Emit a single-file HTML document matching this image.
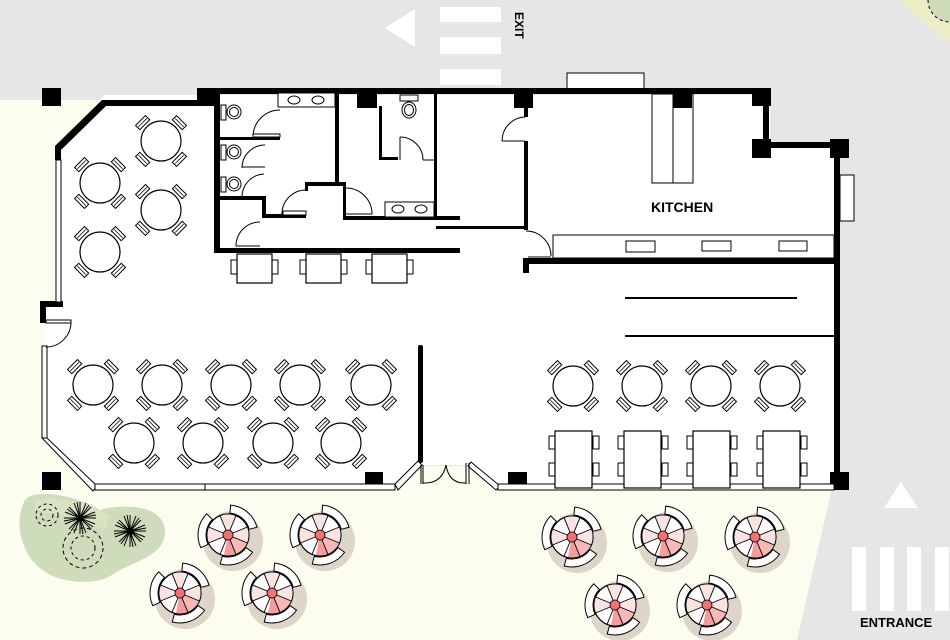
<!DOCTYPE html>
<html><head><meta charset="utf-8">
<style>
html,body{margin:0;padding:0;background:#e6e6e6;}
svg{display:block;}
text{font-family:"Liberation Sans",sans-serif;font-weight:bold;}
</style></head>
<body>
<svg width="950" height="640" viewBox="0 0 950 640" xmlns="http://www.w3.org/2000/svg">
<defs>
  <g id="ch">
    <rect x="-7" y="-29" width="14" height="6" fill="#fff" stroke="#000" stroke-width="1"/>
    <line x1="-6" y1="-26" x2="6" y2="-26" stroke="#000" stroke-width="0.8"/>
  </g>
  <g id="rt">
    <use href="#ch" transform="rotate(45)"/>
    <use href="#ch" transform="rotate(135)"/>
    <use href="#ch" transform="rotate(225)"/>
    <use href="#ch" transform="rotate(315)"/>
    <circle r="20" fill="#fff" stroke="#000" stroke-width="1.2"/>
  </g>
  <g id="sq">
    <rect x="-9" y="-11" width="6" height="13" fill="#fff" stroke="#000"/>
    <rect x="-9" y="16" width="6" height="13" fill="#fff" stroke="#000"/>
    <rect x="35" y="-11" width="6" height="13" fill="#fff" stroke="#000"/>
    <rect x="35" y="16" width="6" height="13" fill="#fff" stroke="#000"/>
    <rect x="-3" y="-16" width="37" height="57" fill="#fff" stroke="#000" stroke-width="1.2"/>
  </g>
  <g id="tt">
    <rect x="-6" y="-8" width="6" height="14" fill="#fff" stroke="#000"/>
    <rect x="35" y="-8" width="6" height="14" fill="#fff" stroke="#000"/>
    <rect x="0" y="-14" width="35" height="29" fill="#fff" stroke="#000" stroke-width="1.2"/>
  </g>
  <path id="band" d="M-17.2,-24.6 A30,30 0 0 1 17.2,-24.6 L12.6,-18 A22,22 0 0 0 -12.6,-18 Z" fill="#fff" stroke="#000" stroke-width="1"/>
  <g id="um">
    <circle cx="5" cy="6" r="30" fill="#ddd6c8"/>
    <use href="#band" transform="rotate(40)"/>
    <use href="#band" transform="rotate(160)"/>
    <use href="#band" transform="rotate(280)"/>
    <circle r="21" fill="#fff" stroke="#000" stroke-width="1.2"/>
    <path d="M0,0 L19,-8 A21,21 0 0 1 16,13 Z" fill="#fbe3e3"/>
    <path d="M0,0 L-8,-19 A21,21 0 0 1 8,-19 Z" fill="#fbe3e3"/>
    <path d="M0,0 L-19,8 A21,21 0 0 1 -19,-8 Z" fill="#fbe3e3"/>
    <path d="M0,0 L8,19 A21,21 0 0 1 -4,20 Z" fill="#f59c9c"/>
    <path d="M0,0 L19,8 A21,21 0 0 1 8,19 Z" fill="#f8b8b8"/>
    <g stroke="#000" stroke-width="0.9">
      <line x1="-19.4" y1="-8" x2="19.4" y2="8"/>
      <line x1="-8" y1="-19.4" x2="8" y2="19.4"/>
      <line x1="-19.4" y1="8" x2="19.4" y2="-8"/>
      <line x1="8" y1="-19.4" x2="-8" y2="19.4"/>
    </g>
    <circle r="5" fill="#f07272" stroke="#000" stroke-width="0.8"/>
  </g>
  <g id="tree" stroke="#000" stroke-width="1">
    <line x1="-16" y1="0" x2="16" y2="0"/><line x1="0" y1="-16" x2="0" y2="16"/>
    <line x1="-11" y1="-11" x2="11" y2="11"/><line x1="-11" y1="11" x2="11" y2="-11"/>
    <line x1="-15" y1="-6" x2="15" y2="6"/><line x1="-15" y1="6" x2="15" y2="-6"/>
    <line x1="-6" y1="-15" x2="6" y2="15"/><line x1="6" y1="-15" x2="-6" y2="15"/>
    <line x1="-13" y1="-9" x2="13" y2="9"/><line x1="-9" y1="13" x2="9" y2="-13"/>
    <line x1="-3" y1="-16" x2="3" y2="16"/><line x1="-16" y1="3" x2="16" y2="-3"/>
    <circle r="3" fill="#000"/>
  </g>
</defs>

<rect width="950" height="640" fill="#e6e6e6"/>
<path d="M0,100 L200,100 L200,470 L832,470 L832,488 L797,640 L0,640 Z" fill="#fdfdef"/>
<path d="M902,0 Q925,25 950,42 L950,0 Z" fill="#eeeec6"/>
<circle cx="950" cy="0" r="22" fill="#cfdcbc" stroke="#000" stroke-width="1" stroke-dasharray="3,3"/>

<polygon points="385,28 415,9 415,47" fill="#fff"/>
<rect x="440" y="7" width="61" height="15" fill="#fff"/>
<rect x="440" y="37" width="61" height="17" fill="#fff"/>
<rect x="440" y="69" width="61" height="16" fill="#fff"/>
<text x="0" y="0" font-size="12" transform="translate(515,12) rotate(90)">EXIT</text>

<polygon points="901,482 884,508 918,508" fill="#fff"/>
<rect x="852" y="547" width="14" height="64" fill="#fff"/>
<rect x="880" y="547" width="14" height="64" fill="#fff"/>
<rect x="907" y="547" width="14" height="64" fill="#fff"/>
<rect x="935" y="547" width="14" height="64" fill="#fff"/>
<text x="860" y="627" font-size="13">ENTRANCE</text>

<polygon points="104,95 770,95 770,148 836,148 836,488 495,488 470,465 421,465 398,488 95,488 45,438 45,300 58,300 58,148" fill="#fff"/>
<rect x="422" y="466" width="48" height="22" fill="#fdfdef"/>

<rect x="567" y="73" width="77" height="16" fill="#fff" stroke="#000"/>
<rect x="652" y="94" width="41" height="89" fill="#fff" stroke="#000"/>
<line x1="673" y1="94" x2="673" y2="183" stroke="#000"/>
<rect x="840" y="175" width="14" height="46" fill="#fff" stroke="#000"/>

<g fill="#000">
  <rect x="197" y="88" width="574" height="6"/>
  <rect x="42" y="88" width="19" height="18"/>
  <rect x="197" y="88" width="18" height="16"/>
  <rect x="357" y="92" width="20" height="16"/>
  <rect x="514" y="92" width="19" height="16"/>
  <rect x="673" y="92" width="19" height="16"/>
  <rect x="752" y="88" width="19" height="18"/>
  <rect x="763" y="104" width="6" height="40"/>
  <rect x="752" y="139" width="19" height="19"/>
  <rect x="769" y="142" width="62" height="6"/>
  <rect x="830" y="139" width="19" height="19"/>
  <rect x="834" y="156" width="6" height="318"/>
  <rect x="42" y="472" width="19" height="18"/>
  <rect x="365" y="472" width="18" height="18"/>
  <rect x="508" y="472" width="19" height="18"/>
  <rect x="830" y="472" width="19" height="18"/>
  <rect x="102" y="100" width="112" height="6"/>
  <polygon points="102,100 107,105 61,150 55,146"/>
  <rect x="55" y="146" width="6" height="14"/>
  <rect x="214" y="93" width="6" height="160"/>
  <rect x="214" y="248" width="246" height="5"/>
  <rect x="335" y="93" width="4" height="93"/>
  <rect x="305" y="182" width="41" height="4"/>
  <rect x="305" y="182" width="3" height="9"/>
  <rect x="343" y="182" width="3" height="38"/>
  <rect x="343" y="216" width="117" height="4"/>
  <rect x="434" y="93" width="3" height="127"/>
  <rect x="379" y="106" width="3" height="54"/>
  <rect x="379" y="157" width="19" height="3"/>
  <rect x="220" y="196" width="45" height="4"/>
  <rect x="262" y="196" width="4" height="22"/>
  <rect x="262" y="214" width="44" height="4"/>
  <rect x="220" y="137" width="60" height="3"/>
  <rect x="524" y="106" width="4" height="11"/>
  <rect x="524" y="141" width="4" height="89"/>
  <rect x="436" y="226" width="92" height="3"/>
  <rect x="523" y="258" width="6" height="15"/>
  <rect x="523" y="258" width="317" height="6"/>
  <rect x="40" y="301" width="23" height="6"/>
  <rect x="40" y="301" width="6" height="22"/>
  <rect x="418" y="345" width="5" height="118" rx="2"/>
</g>

<rect x="553" y="235" width="281" height="23" fill="#fff" stroke="#000"/>
<rect x="626" y="241" width="29" height="11" fill="#fff" stroke="#000"/>
<rect x="702" y="241" width="29" height="10" fill="#fff" stroke="#000"/>
<rect x="779" y="241" width="28" height="10" fill="#fff" stroke="#000"/>
<text x="651" y="212" font-size="14">KITCHEN</text>
<line x1="625" y1="298" x2="797" y2="298" stroke="#000" stroke-width="2"/>
<line x1="625" y1="336" x2="835" y2="336" stroke="#000" stroke-width="2"/>

<g fill="#fff" stroke="#000" stroke-width="1">
  <rect x="56" y="160" width="5" height="142"/>
  <rect x="42" y="346" width="5" height="92"/>
  <polygon points="42,438 47,438 97,486 93,491"/>
  <rect x="95" y="484" width="300" height="6"/>
  <polygon points="395,484 418,461 422,465 398,490"/>
  <polygon points="471,462 500,486 496,490 468,466"/>
  <rect x="498" y="484" width="336" height="6"/>
</g>
<line x1="205" y1="484" x2="205" y2="490" stroke="#000"/>

<g fill="none" stroke="#000" stroke-width="1">
  <line x1="421" y1="465" x2="421" y2="484"/><line x1="423" y1="465" x2="423" y2="484"/>
  <line x1="466" y1="463" x2="466" y2="484"/><line x1="469" y1="463" x2="469" y2="484"/>
  <path d="M423,483 Q442,484 446,465"/>
  <path d="M466,483 Q449,484 446,465"/>
</g>

<g fill="none" stroke="#000" stroke-width="1">
  <path d="M71,322 A25,25 0 0 1 46,347"/>
  <rect x="46" y="320" width="25" height="3" fill="#fff"/>
  <path d="M280,110 A27,27 0 0 0 253,137"/>
  <rect x="253" y="134" width="27" height="3" fill="#fff"/>
  <path d="M265,145 A23,23 0 0 0 242,168"/>
  <line x1="242" y1="167" x2="265" y2="167"/>
  <path d="M264,174 A23,23 0 0 0 242,197"/>
  <path d="M260,222 A24,24 0 0 0 236,246"/>
  <line x1="236" y1="246" x2="260" y2="246"/>
  <path d="M306,190 A24,24 0 0 0 282,214"/>
  <rect x="283" y="211" width="23" height="4" fill="#fff"/>
  <path d="M346,188 A26,26 0 0 1 372,214"/>
  <line x1="346" y1="214" x2="372" y2="214"/>
  <line x1="400" y1="137" x2="400" y2="160"/>
  <path d="M400,137 A23,23 0 0 1 423,160"/>
  <line x1="423" y1="160" x2="434" y2="160"/>
  <line x1="525" y1="141" x2="502" y2="141"/>
  <path d="M525,117 A24,24 0 0 0 502,141"/>
  <path d="M526,231 A25,25 0 0 1 551,256"/>
  <line x1="528" y1="257" x2="551" y2="257"/>
</g>

<g fill="#fff" stroke="#000" stroke-width="1">
  <rect x="278" y="93" width="57" height="14"/>
  <ellipse cx="294" cy="100" rx="6" ry="4"/><ellipse cx="318" cy="100" rx="6" ry="4"/>
  <rect x="385" y="202" width="49" height="15"/>
  <ellipse cx="398" cy="209" rx="6" ry="4"/><ellipse cx="421" cy="209" rx="6" ry="4"/>
  <rect x="221" y="105" width="5" height="15"/><circle cx="234" cy="112" r="7"/><circle cx="234" cy="112" r="4.5"/>
  <rect x="221" y="145" width="5" height="15"/><circle cx="234" cy="152" r="7"/><circle cx="234" cy="152" r="4.5"/>
  <rect x="221" y="177" width="5" height="15"/><circle cx="234" cy="184" r="7"/><circle cx="234" cy="184" r="4.5"/>
  <rect x="400" y="95" width="18" height="6"/><ellipse cx="409" cy="110" rx="7" ry="8"/><ellipse cx="409" cy="110" rx="4.5" ry="5.5"/>
</g>

<use href="#tt" transform="translate(237,268)"/>
<use href="#tt" transform="translate(306,268)"/>
<use href="#tt" transform="translate(372,268)"/>

<use href="#rt" x="161" y="141"/>
<use href="#rt" x="100" y="183"/>
<use href="#rt" x="161" y="210"/>
<use href="#rt" x="100" y="252"/>
<use href="#rt" x="93" y="385"/>
<use href="#rt" x="162" y="385"/>
<use href="#rt" x="231" y="385"/>
<use href="#rt" x="300" y="385"/>
<use href="#rt" x="371" y="385"/>
<use href="#rt" x="134" y="443"/>
<use href="#rt" x="203" y="443"/>
<use href="#rt" x="273" y="443"/>
<use href="#rt" x="341" y="443"/>
<use href="#rt" x="573" y="386"/>
<use href="#rt" x="642" y="386"/>
<use href="#rt" x="711" y="386"/>
<use href="#rt" x="780" y="386"/>

<use href="#sq" transform="translate(558,447)"/>
<use href="#sq" transform="translate(627,447)"/>
<use href="#sq" transform="translate(696,447)"/>
<use href="#sq" transform="translate(766,447)"/>

<path d="M25,500 C35,488 75,495 100,510 C125,503 165,505 165,532 C165,557 130,562 112,575 C95,586 58,584 40,568 C20,552 14,520 25,500 Z" fill="#cfdcbc"/>
<path d="M35,500 C60,495 90,505 110,515 L105,530 C85,520 55,515 35,510 Z" fill="#dde6c8" opacity="0.7"/>
<circle cx="47" cy="515" r="11" fill="none" stroke="#000" stroke-dasharray="3,3"/>
<circle cx="47" cy="515" r="6" fill="none" stroke="#000" stroke-dasharray="3,3"/>
<circle cx="83" cy="548" r="20" fill="none" stroke="#000" stroke-dasharray="4,3"/>
<circle cx="83" cy="548" r="12" fill="none" stroke="#000" stroke-dasharray="3,3"/>
<use href="#tree" x="80" y="518"/>
<use href="#tree" x="130" y="531"/>

<use href="#um" x="228" y="535"/>
<use href="#um" x="320" y="535"/>
<use href="#um" x="180" y="593"/>
<use href="#um" x="272" y="593"/>
<use href="#um" x="572" y="537"/>
<use href="#um" x="663" y="536"/>
<use href="#um" x="755" y="537"/>
<use href="#um" x="615" y="605"/>
<use href="#um" x="707" y="605"/>
</svg>
</body></html>
